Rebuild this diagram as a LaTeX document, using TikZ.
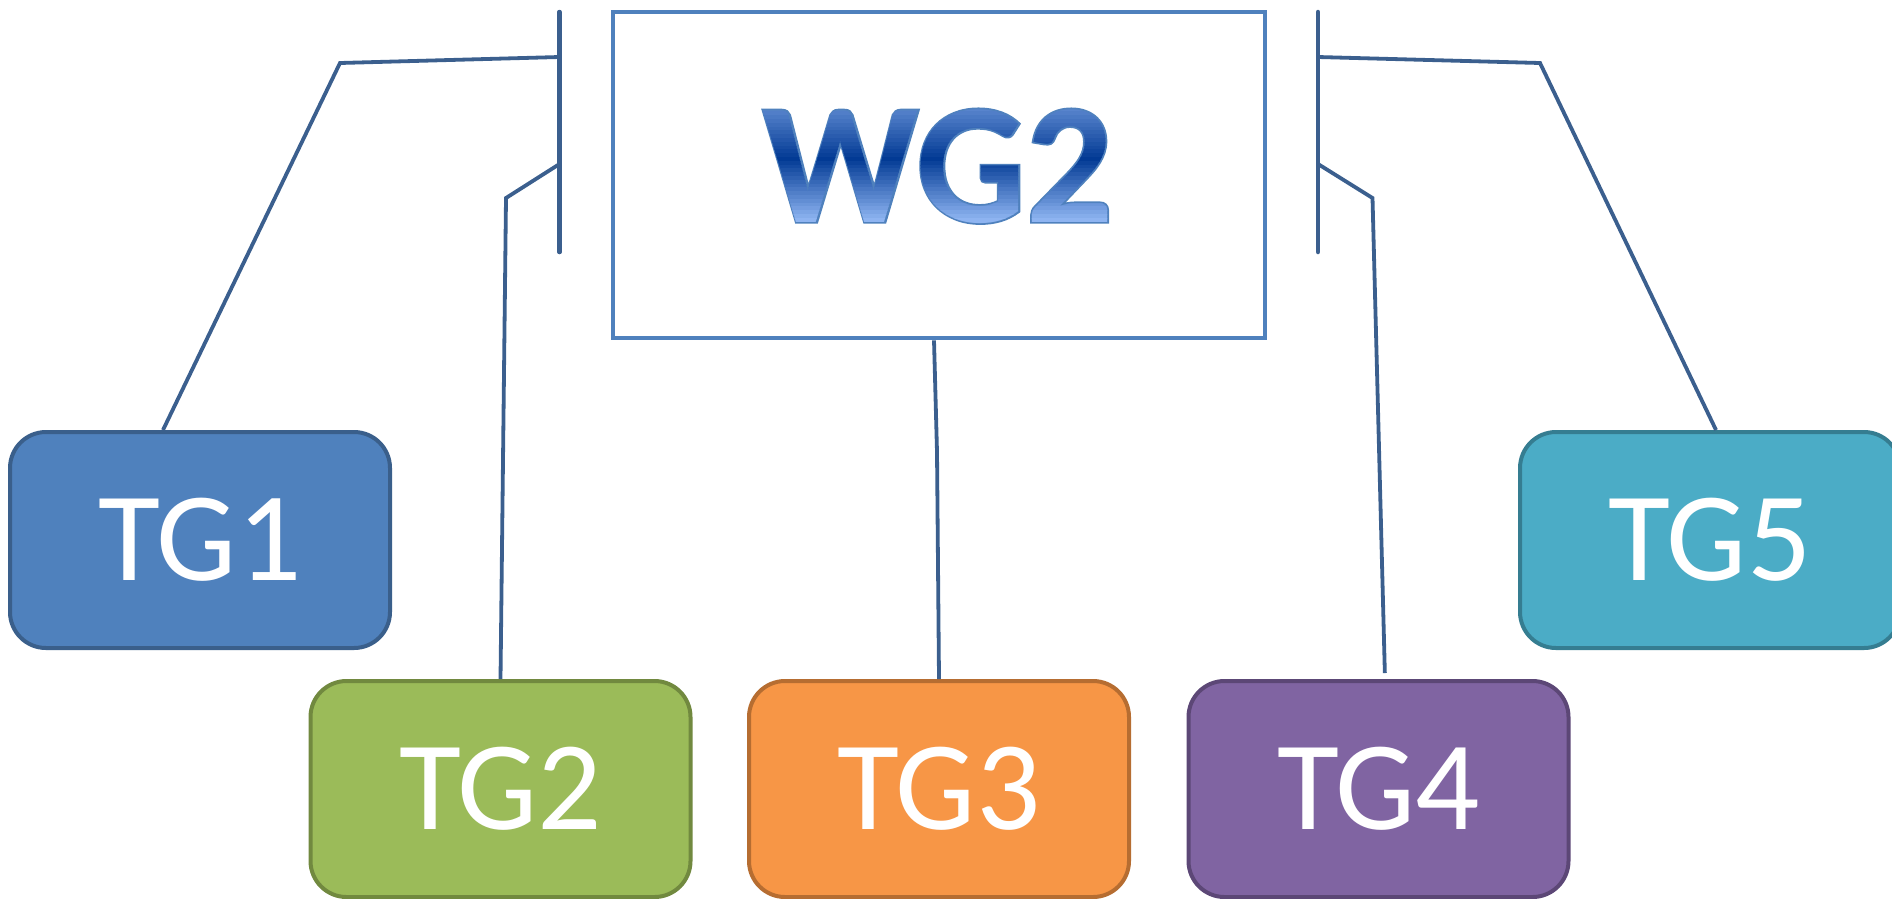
\documentclass[tikz,border=0pt]{standalone}
\usepackage{fontspec}
\usetikzlibrary{calc}
\newfontfamily\tgfont{Carlito}
\newfontfamily\wgfont{Carlito Bold}
\newfontfamily\wgfat{Carlito Bold}[FakeBold=2]
\definecolor{linec}{HTML}{3B5F8E}
\definecolor{wgborder}{HTML}{4F81BD}
\definecolor{wgtop}{HTML}{5B87CF}
\definecolor{wgmid}{HTML}{023A94}
\definecolor{wgbot}{HTML}{92B8F4}
\definecolor{tgonefill}{HTML}{4F81BD}\definecolor{tgonedraw}{HTML}{3A5F8B}
\definecolor{tgtwofill}{HTML}{9BBB59}\definecolor{tgtwodraw}{HTML}{71893F}
\definecolor{tgthreefill}{HTML}{F79646}\definecolor{tgthreedraw}{HTML}{B66D31}
\definecolor{tgfourfill}{HTML}{8064A2}\definecolor{tgfourdraw}{HTML}{5C4776}
\definecolor{tgfivefill}{HTML}{4BACC6}\definecolor{tgfivedraw}{HTML}{357D91}
\tikzset{
  tgbox/.style 2 args={rectangle, rounded corners=36pt, line width=4pt,
    fill=#1, draw=#2, text=white, font=\tgfont\fontsize{127}{127}\selectfont,
    inner sep=0pt, minimum width=380pt, minimum height=216pt},
  conn/.style={draw=linec, line width=3.8pt, line join=miter},
  bar/.style={draw=linec, line width=4.5pt, line cap=round},
  wgletters/.style={inner sep=0pt, anchor=base, font=\wgfont\fontsize{172}{172}\selectfont}
}
\begin{document}
\begin{tikzpicture}[x=1pt,y=-1pt]
\useasboundingbox (0,0) rectangle (1892,898);
% WG2 box
\node[rectangle, draw=wgborder, line width=4.7pt, minimum width=652pt, minimum height=326pt, inner sep=0pt] (wg) at (939,175) {};
% WG2 text: outline then banded gradient
\node[wgletters, font=\wgfat\fontsize{172}{172}\selectfont, text=wgborder] (wgt) at (938,222) {WG2};
\foreach \i in {0,...,29}{
  \pgfmathsetmacro{\ya}{\i==0 ? 80 : 108+\i*3.8}
  \pgfmathsetmacro{\yb}{\i==29 ? 250 : 108+(\i+1)*3.8}
  \pgfmathsetmacro{\t}{(\i+0.5)/30}
  \pgfmathsetmacro{\pa}{\t<0.45 ? 100*\t/0.45 : 0}
  \pgfmathsetmacro{\pb}{\t<0.45 ? 0 : 100*(\t-0.45)/0.55}
  \ifdim \t pt<0.45pt
    \colorlet{bandc}{wgmid!\pa!wgtop}
  \else
    \colorlet{bandc}{wgbot!\pb!wgmid}
  \fi
  \begin{scope}
    \clip (700,\ya) rectangle (1180,\yb);
    \node[wgletters, text=bandc] at (938,222) {WG2};
  \end{scope}
}
% TG boxes
\node[tgbox={tgonefill}{tgonedraw}] (tg1) at (200,540) {TG1};
\node[tgbox={tgtwofill}{tgtwodraw}] (tg2) at (500.5,789) {TG2};
\node[tgbox={tgthreefill}{tgthreedraw}] (tg3) at (939,789) {TG3};
\node[tgbox={tgfourfill}{tgfourdraw}] (tg4) at (1378.5,789) {TG4};
\node[tgbox={tgfivefill}{tgfivedraw}] (tg5) at (1710,540) {TG5};
% bars
\coordinate (lbt) at (559.5,12); \coordinate (lbb) at (559.5,252);
\coordinate (rbt) at (1318,12); \coordinate (rbb) at (1318,252);
\draw[bar] (lbt) -- (lbb);
\draw[bar] (rbt) -- (rbb);
\coordinate (la) at (559.5,57); \coordinate (lak) at (340,63);
\coordinate (lb) at (559.5,164); \coordinate (lbk) at (506,198);
\coordinate (ra) at (1318,57); \coordinate (rak) at (1540,63);
\coordinate (rb) at (1318,164); \coordinate (rbk) at (1372.5,198);
\coordinate (ck) at (937,452);
\draw[conn] (la) -- (lak) -- ($(tg1.north)+(-37,0)$);
\draw[conn] (lb) -- (lbk) -- (tg2.north);
\draw[conn] (ra) -- (rak) -- ($(tg5.north)+(6,0)$);
\draw[conn, shorten >=6pt] (rb) -- (rbk) -- ($(tg4.north)+(6.5,0)$);
\draw[conn] ($(wg.south)+(-5,0)$) -- (ck) -- (tg3.north);
\end{tikzpicture}
\end{document}
